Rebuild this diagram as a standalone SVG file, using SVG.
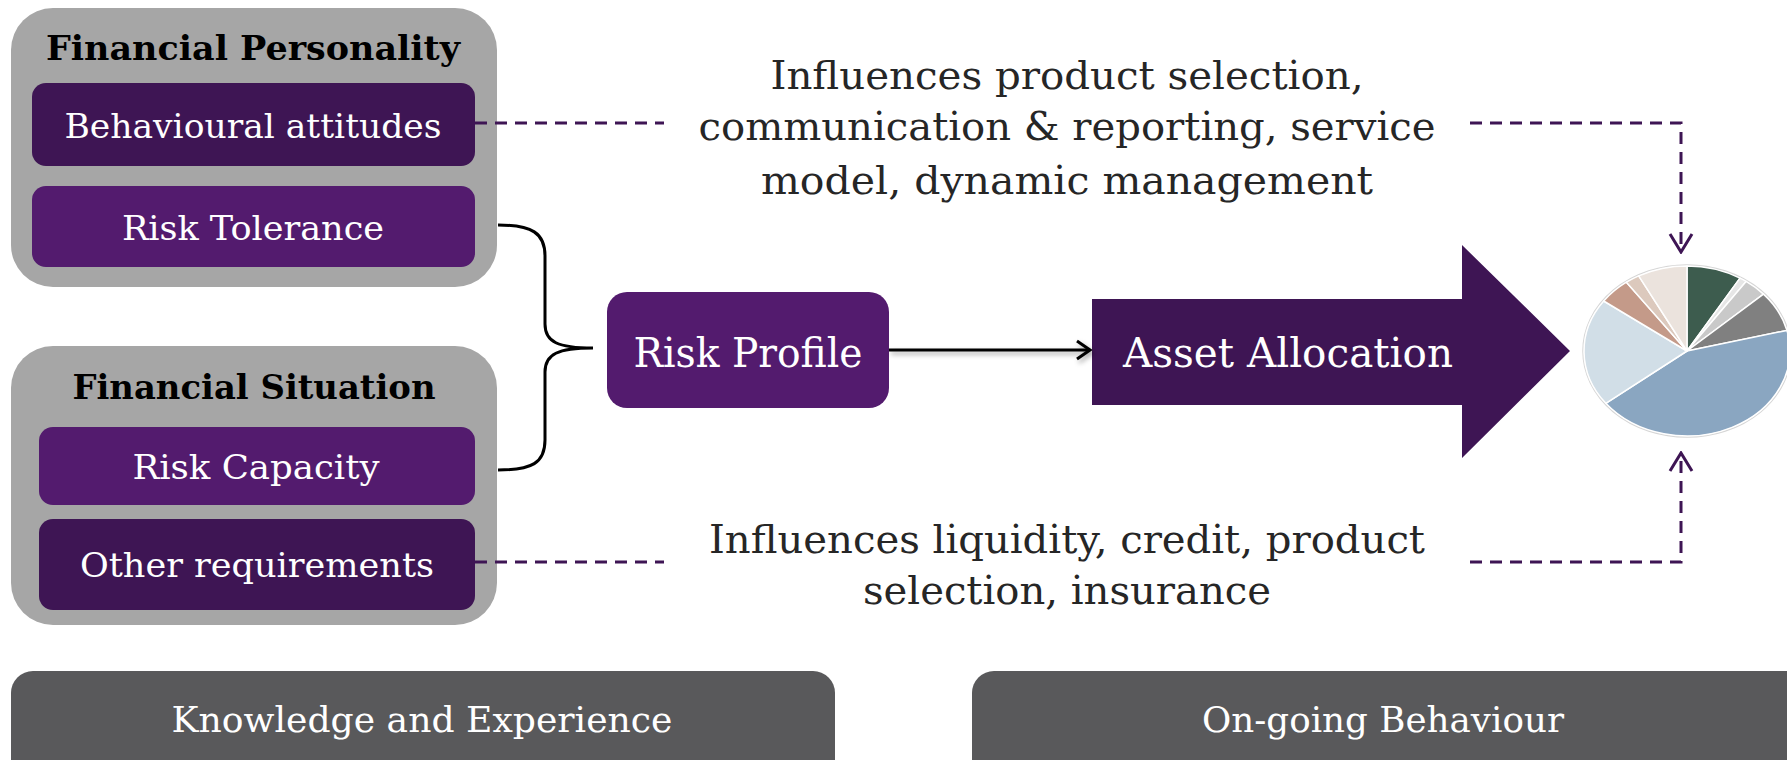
<svg xmlns="http://www.w3.org/2000/svg" width="1787" height="760" viewBox="0 0 1787 760">
  <style>
    .txt { font-family: "DejaVu Serif", "Liberation Serif", serif; text-anchor: middle; }
    .title { font-size: 33px; font-weight: bold; fill: #000000; }
    .item { font-size: 34px; fill: #ffffff; }
    .big { font-size: 41px; fill: #ffffff; }
    .note { font-size: 40px; fill: #262626; }
    .bar { font-size: 36px; fill: #ffffff; }
    .outer { fill: #a6a6a6; }
    .dark { fill: #3e1554; }
    .mid { fill: #531b6e; }
    .dash { fill: none; stroke: #3e1554; stroke-width: 3; stroke-dasharray: 12 8; }
    .solid { fill: none; stroke: #000000; stroke-width: 3; }
    .slice { stroke: #ffffff; stroke-width: 1.5; stroke-linejoin: round; }
  </style>
  <defs>
    <marker id="openPurple" viewBox="-20 -13 22 26" refX="0" refY="0" markerWidth="22" markerHeight="26" orient="auto" markerUnits="userSpaceOnUse">
      <path d="M-18,-11 L0,0 L-18,11" fill="none" stroke="#3e1554" stroke-width="3"/>
    </marker>
    <marker id="openBlack" viewBox="-16 -11 18 22" refX="0" refY="0" markerWidth="18" markerHeight="22" orient="auto" markerUnits="userSpaceOnUse">
      <path d="M-13,-9 L0,0 L-13,9" fill="none" stroke="#000000" stroke-width="3"/>
    </marker>
    <filter id="softShadow" filterUnits="userSpaceOnUse" x="870" y="325" width="240" height="50">
      <feDropShadow dx="2" dy="3" stdDeviation="2.5" flood-color="#000000" flood-opacity="0.35"/>
    </filter>
  </defs>

  <!-- Financial Personality panel -->
  <g id="financial-personality">
    <rect class="outer" x="11" y="8" width="486" height="279" rx="42"/>
    <text class="txt title" x="253" y="60" textLength="414" lengthAdjust="spacingAndGlyphs">Financial Personality</text>
  </g>
  <g id="behavioural-attitudes">
    <rect class="dark" x="32" y="83" width="443" height="83" rx="14"/>
    <text class="txt item" x="253" y="138" textLength="377" lengthAdjust="spacingAndGlyphs">Behavioural attitudes</text>
  </g>
  <g id="risk-tolerance">
    <rect class="mid" x="32" y="186" width="443" height="81" rx="14"/>
    <text class="txt item" x="253" y="240" textLength="262" lengthAdjust="spacingAndGlyphs">Risk Tolerance</text>
  </g>

  <!-- Financial Situation panel -->
  <g id="financial-situation">
    <rect class="outer" x="11" y="346" width="486" height="279" rx="42"/>
    <text class="txt title" x="254" y="399" textLength="363" lengthAdjust="spacingAndGlyphs">Financial Situation</text>
  </g>
  <g id="risk-capacity">
    <rect class="mid" x="39" y="427" width="436" height="78" rx="14"/>
    <text class="txt item" x="256" y="479" textLength="247" lengthAdjust="spacingAndGlyphs">Risk Capacity</text>
  </g>
  <g id="other-requirements">
    <rect class="dark" x="39" y="519" width="436" height="91" rx="14"/>
    <text class="txt item" x="257" y="577" textLength="354" lengthAdjust="spacingAndGlyphs">Other requirements</text>
  </g>

  <!-- Risk Profile -->
  <g id="risk-profile">
    <rect class="mid" x="607" y="292" width="282" height="116" rx="20"/>
    <text class="txt big" x="748" y="367" textLength="229" lengthAdjust="spacingAndGlyphs">Risk Profile</text>
  </g>

  <!-- Asset Allocation block arrow -->
  <g id="asset-allocation">
    <polygon class="dark" points="1092,299 1462,299 1462,245 1570,351 1462,458 1462,405 1092,405"/>
    <text class="txt big" x="1288" y="367" textLength="330" lengthAdjust="spacingAndGlyphs">Asset Allocation</text>
  </g>

  <!-- Portfolio pie -->
  <g id="portfolio-pie">
    <ellipse cx="1687" cy="351" rx="104" ry="86" fill="none" stroke="#d6d6d6" stroke-width="1.5"/>
    <path class="slice" fill="#3d5c4e" d="M1687,351 L1687,266 A103,85 0 0 1 1740,278.1 Z"/>
    <path class="slice" fill="#e6e6e6" d="M1687,351 L1740,278.1 A103,85 0 0 1 1746.1,281.4 Z"/>
    <path class="slice" fill="#c9c9c9" d="M1687,351 L1746.1,281.4 A103,85 0 0 1 1763.5,294.1 Z"/>
    <path class="slice" fill="#808080" d="M1687,351 L1763.5,294.1 A103,85 0 0 1 1786.9,330.4 Z"/>
    <path class="slice" fill="#8aa6c1" d="M1687,351 L1786.9,330.4 A103,85 0 0 1 1605.8,403.3 Z"/>
    <path class="slice" fill="#d1dee7" d="M1687,351 L1605.8,403.3 A103,85 0 0 1 1603.7,301 Z"/>
    <path class="slice" fill="#c49a89" d="M1687,351 L1603.7,301 A103,85 0 0 1 1626.4,282.2 Z"/>
    <path class="slice" fill="#dcc9bd" d="M1687,351 L1626.4,282.2 A103,85 0 0 1 1638.7,275.9 Z"/>
    <path class="slice" fill="#ebe3dd" d="M1687,351 L1638.7,275.9 A103,85 0 0 1 1687,266 Z"/>
  </g>

  <!-- Influence notes -->
  <g id="note-personality">
    <text class="txt note" x="1067" y="89" textLength="593" lengthAdjust="spacingAndGlyphs">Influences product selection,</text>
    <text class="txt note" x="1067" y="140" textLength="737" lengthAdjust="spacingAndGlyphs">communication &amp; reporting, service</text>
    <text class="txt note" x="1067" y="194" textLength="612" lengthAdjust="spacingAndGlyphs">model, dynamic management</text>
  </g>
  <g id="note-situation">
    <text class="txt note" x="1067" y="553" textLength="716" lengthAdjust="spacingAndGlyphs">Influences liquidity, credit, product</text>
    <text class="txt note" x="1067" y="604" textLength="408" lengthAdjust="spacingAndGlyphs">selection, insurance</text>
  </g>

  <!-- Bottom bars -->
  <g id="knowledge-experience">
    <rect x="11" y="671" width="824" height="120" rx="22" fill="#59595b"/>
    <text class="txt bar" x="422" y="732" textLength="501" lengthAdjust="spacingAndGlyphs">Knowledge and Experience</text>
  </g>
  <g id="ongoing-behaviour">
    <rect x="972" y="671" width="840" height="120" rx="22" fill="#59595b"/>
    <text class="txt bar" x="1383" y="732" textLength="362" lengthAdjust="spacingAndGlyphs">On-going Behaviour</text>
  </g>

  <!-- Connectors -->
  <g id="connectors">
    <path class="solid" d="M498,225 C532,225 545,233 545,256 L545,324 C545,342 558,348 593,348 C558,348 545,354 545,372 L545,440 C545,463 532,470 498,470"/>
    <path class="solid" d="M889,350 H1090" marker-end="url(#openBlack)" filter="url(#softShadow)"/>
    <path class="dash" d="M475,123 H664"/>
    <path class="dash" d="M1470,123 H1681 V252" marker-end="url(#openPurple)"/>
    <path class="dash" d="M475,562 H664"/>
    <path class="dash" d="M1470,562 H1681 V453" marker-end="url(#openPurple)"/>
  </g>
</svg>
